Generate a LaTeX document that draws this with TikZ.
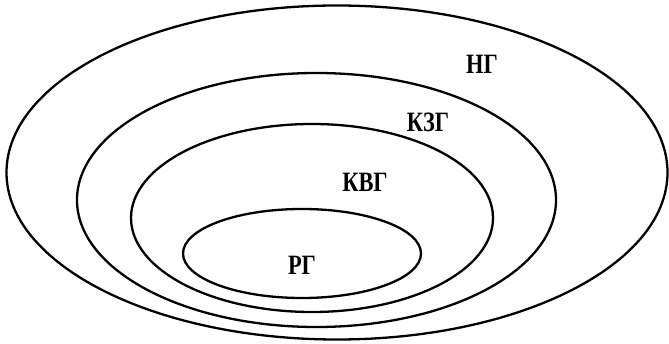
\documentclass[tikz,border=0pt]{standalone}
\usepackage{fontspec}
\setmainfont{Liberation Serif}
\usepackage{tikz}
\usetikzlibrary{positioning}
\tikzset{
    every picture/.style={line cap=round,line join=round},
    setline/.style={draw=black,line width=2.3pt},
    setlabel/.style={font=\fontsize{28}{32}\selectfont\bfseries,
      inner sep=0pt,xscale=0.8}
}

\begin{document}
\begin{tikzpicture}[x=1pt,y=-1pt]
  \useasboundingbox (0,0) rectangle (669,344);
  % nested sets
  \draw[setline] (337,172.5) ellipse [x radius=330.5pt,y radius=167pt];
  \draw[setline] (316.5,200) ellipse [x radius=239.5pt,y radius=127pt];
  \draw[setline] (312,218) ellipse [x radius=181pt,y radius=94pt];
  \draw[setline] (302,253.5) ellipse [x radius=119pt,y radius=44.5pt];
  % labels
  \node[setlabel] (ng) at (482,64) {НГ};
  \node[setlabel] (kzg) at (428,122) {КЗГ};
  \node[setlabel] (kvg) at (365,182) {КВГ};
  \node[setlabel] (rg) at (302,265) {РГ};
\end{tikzpicture}
\end{document}
